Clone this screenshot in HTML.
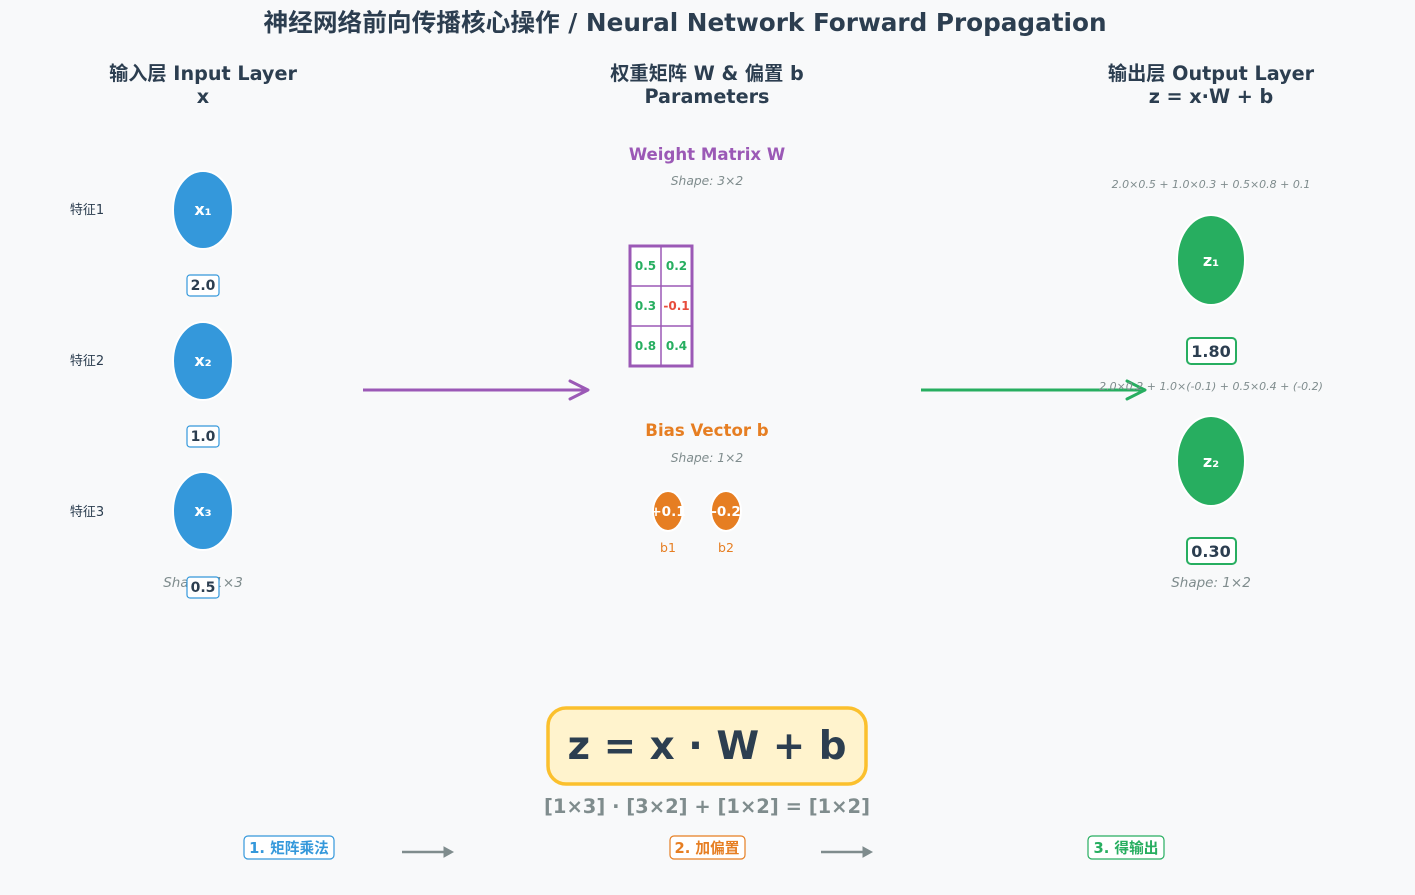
<!DOCTYPE html>
<html><head><meta charset="utf-8"><style>
html,body{margin:0;padding:0;background:#f8f9fa;}
svg text{font-family:"DejaVu Sans","Liberation Sans","Noto Sans CJK SC",sans-serif;}
</style></head><body>
<svg width="1415" height="890" viewBox="0 0 1415 890" xmlns="http://www.w3.org/2000/svg">
<rect width="1415" height="890" fill="#f8f9fa"/>
<text x="685" y="31" text-anchor="middle" font-size="24.7" font-weight="bold" fill="#2c3e50">神经网络前向传播核心操作 / Neural Network Forward Propagation</text>

<g font-size="19.2" font-weight="bold" fill="#2c3e50" text-anchor="middle">
<text x="203" y="80">输入层 Input Layer</text><text x="203" y="103">x</text>
<text x="707" y="80">权重矩阵 W &amp; 偏置 b</text><text x="707" y="103">Parameters</text>
<text x="1211" y="80">输出层 Output Layer</text><text x="1211" y="103">z = x·W + b</text>
</g>

<!-- inputs -->
<g font-size="13" fill="#2c3e50" text-anchor="middle">
<text x="87" y="214">特征1</text><text x="87" y="365">特征2</text><text x="87" y="516">特征3</text>
</g>
<g fill="#3498db" stroke="#fff" stroke-width="2">
<ellipse cx="203" cy="210" rx="30" ry="39"/><ellipse cx="203" cy="361" rx="30" ry="39"/><ellipse cx="203" cy="511" rx="30" ry="39"/>
</g>
<g font-size="16" font-weight="bold" fill="#fff" text-anchor="middle">
<text x="203" y="215">x₁</text><text x="203" y="366">x₂</text><text x="203" y="516">x₃</text>
</g>
<text x="203" y="587" text-anchor="middle" font-size="13.5" font-style="italic" fill="#7f8c8d">Shape: 1×3</text>
<g fill="#fff" stroke="#3498db" stroke-width="1.2">
<rect x="187" y="275" width="32" height="21" rx="3"/><rect x="187" y="426" width="32" height="21" rx="3"/><rect x="187" y="577" width="32" height="21" rx="3"/>
</g>
<g font-size="14" font-weight="bold" fill="#2c3e50" text-anchor="middle">
<text x="203" y="290">2.0</text><text x="203" y="441">1.0</text><text x="203" y="592">0.5</text>
</g>

<!-- arrows -->
<line x1="363" y1="390" x2="588" y2="390" stroke="#9b59b6" stroke-width="3"/>
<path d="M570,381 L588,390 L570,399" fill="none" stroke="#9b59b6" stroke-width="3" stroke-linecap="round" stroke-linejoin="round"/>
<line x1="921" y1="390" x2="1145" y2="390" stroke="#27ae60" stroke-width="3"/>
<path d="M1127,381 L1145,390 L1127,399" fill="none" stroke="#27ae60" stroke-width="3" stroke-linecap="round" stroke-linejoin="round"/>

<!-- weight matrix -->
<text x="707" y="160" text-anchor="middle" font-size="16.6" font-weight="bold" fill="#9b59b6">Weight Matrix W</text>
<text x="707" y="185" text-anchor="middle" font-size="12.3" font-style="italic" fill="#7f8c8d">Shape: 3×2</text>
<rect x="630" y="246" width="62" height="120" fill="#fff" stroke="#9b59b6" stroke-width="3"/>
<line x1="661" y1="246" x2="661" y2="366" stroke="#9b59b6" stroke-width="1.5"/>
<line x1="630" y1="286" x2="692" y2="286" stroke="#9b59b6" stroke-width="1.5"/>
<line x1="630" y1="326" x2="692" y2="326" stroke="#9b59b6" stroke-width="1.5"/>
<g font-size="12" font-weight="bold" text-anchor="middle" fill="#27ae60">
<text x="645.5" y="270">0.5</text><text x="676.5" y="270">0.2</text>
<text x="645.5" y="310">0.3</text><text x="676.5" y="310" fill="#e74c3c">-0.1</text>
<text x="645.5" y="350">0.8</text><text x="676.5" y="350">0.4</text>
</g>

<!-- bias -->
<text x="707" y="436" text-anchor="middle" font-size="16.6" font-weight="bold" fill="#e67e22">Bias Vector b</text>
<text x="707" y="462" text-anchor="middle" font-size="12.3" font-style="italic" fill="#7f8c8d">Shape: 1×2</text>
<ellipse cx="668" cy="511" rx="15" ry="20" fill="#e67e22" stroke="#fff" stroke-width="2"/>
<ellipse cx="726" cy="511" rx="15" ry="20" fill="#e67e22" stroke="#fff" stroke-width="2"/>
<g font-size="13.5" font-weight="bold" fill="#fff" text-anchor="middle">
<text x="668" y="516">+0.1</text><text x="726" y="516">-0.2</text>
</g>
<g font-size="12.5" fill="#e67e22" text-anchor="middle"><text x="668" y="552">b1</text><text x="726" y="552">b2</text></g>

<!-- outputs -->
<g font-size="11" font-style="italic" fill="#7f8c8d" text-anchor="middle">
<text x="1211" y="188">2.0×0.5 + 1.0×0.3 + 0.5×0.8 + 0.1</text>
<text x="1211" y="390">2.0×0.2 + 1.0×(-0.1) + 0.5×0.4 + (-0.2)</text>
</g>
<ellipse cx="1211" cy="260" rx="34" ry="45" fill="#27ae60" stroke="#fff" stroke-width="2"/>
<ellipse cx="1211" cy="461" rx="34" ry="45" fill="#27ae60" stroke="#fff" stroke-width="2"/>
<g font-size="16" font-weight="bold" fill="#fff" text-anchor="middle">
<text x="1211" y="266">z₁</text><text x="1211" y="467">z₂</text>
</g>
<rect x="1187" y="338" width="49" height="26" rx="4" fill="#fff" stroke="#27ae60" stroke-width="2"/>
<rect x="1187" y="538" width="49" height="26" rx="4" fill="#fff" stroke="#27ae60" stroke-width="2"/>
<g font-size="16" font-weight="bold" fill="#2c3e50" text-anchor="middle">
<text x="1211" y="357">1.80</text><text x="1211" y="557">0.30</text>
</g>
<text x="1211" y="587" text-anchor="middle" font-size="13.5" font-style="italic" fill="#7f8c8d">Shape: 1×2</text>

<!-- formula -->
<rect x="548" y="708" width="318" height="76" rx="18" fill="#fff3cd" stroke="#fbc02d" stroke-width="3.5"/>
<text x="707" y="759" text-anchor="middle" font-size="38.8" font-weight="bold" fill="#2c3e50">z = x · W + b</text>
<text x="707" y="813" text-anchor="middle" font-size="19.5" font-weight="bold" fill="#7f8c8d">[1×3] · [3×2] + [1×2] = [1×2]</text>

<!-- steps -->
<rect x="244" y="836" width="90" height="23" rx="4" fill="#fff" stroke="#3498db" stroke-width="1.2"/>
<text x="289" y="853" text-anchor="middle" font-size="14.7" font-weight="bold" fill="#3498db">1. 矩阵乘法</text>
<rect x="670" y="836" width="75" height="23" rx="4" fill="#fff" stroke="#e67e22" stroke-width="1.2"/>
<text x="707" y="853" text-anchor="middle" font-size="14.7" font-weight="bold" fill="#e67e22">2. 加偏置</text>
<rect x="1088" y="836" width="76" height="23" rx="4" fill="#fff" stroke="#27ae60" stroke-width="1.2"/>
<text x="1126" y="853" text-anchor="middle" font-size="14.7" font-weight="bold" fill="#27ae60">3. 得输出</text>
<g stroke="#7f8c8d" stroke-width="2.5" fill="#7f8c8d">
<line x1="402" y1="852" x2="446" y2="852"/><path d="M444,847 L453,852 L444,857 Z" stroke-width="1"/>
<line x1="821" y1="852" x2="865" y2="852"/><path d="M863,847 L872,852 L863,857 Z" stroke-width="1"/>
</g>
</svg>
</body></html>
